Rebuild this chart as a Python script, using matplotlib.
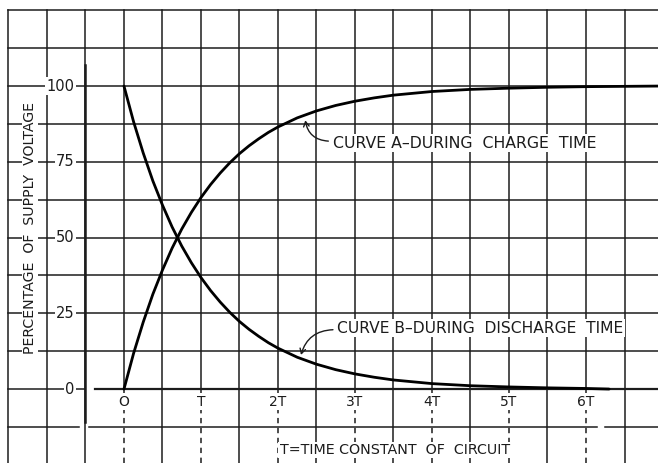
import numpy as np
import matplotlib.pyplot as plt

# time axis in units of the time constant T
t_charge = [0, 0.125, 0.25, 0.375, 0.5, 0.625, 0.75, 0.875, 1, 1.125, 1.25,
            1.375, 1.5, 1.625, 1.75, 1.875, 2, 2.25, 2.5, 2.75, 3, 3.25,
            3.5, 3.75, 4, 4.5, 5, 5.5, 6, 6.95]
v_charge = [0, 11.8, 22.1, 31.3, 39.3, 46.5, 52.8, 58.3, 63.2, 67.5, 71.3,
            74.7, 77.7, 80.3, 82.6, 84.7, 86.5, 89.5, 91.8, 93.6, 95.0, 96.1,
            97.0, 97.6, 98.2, 98.9, 99.3, 99.6, 99.8, 100]

t_discharge = [0, 0.125, 0.25, 0.375, 0.5, 0.625, 0.75, 0.875, 1, 1.125, 1.25,
               1.375, 1.5, 1.625, 1.75, 1.875, 2, 2.25, 2.5, 2.75, 3, 3.25,
               3.5, 3.75, 4, 4.5, 5, 5.5, 6, 6.3]
v_discharge = [100, 88.2, 77.9, 68.7, 60.7, 53.5, 47.2, 41.7, 36.8, 32.5, 28.7,
               25.3, 22.3, 19.7, 17.4, 15.3, 13.5, 10.5, 8.2, 6.4, 5.0, 3.9,
               3.0, 2.4, 1.8, 1.1, 0.7, 0.4, 0.2, 0]

x_ticks = [0, 1, 2, 3, 4, 5, 6]
x_labels = ['O', 'T', '2T', '3T', '4T', '5T', '6T']
y_ticks = [0, 25, 50, 75, 100]
y_labels = ['0', '25', '50', '75', '100']

# sheet limits (graph paper: 0.5T by 12.5 % squares)
XMIN, XMAX = -1.61, 6.935
YMIN, YMAX = -24.4, 128.4
LEFT, TOP = -1.5, 125.0

INK = '#1c1c1c'
fig = plt.figure(figsize=(6.58, 4.63), dpi=100)
ax = fig.add_axes([0, 0, 1, 1])
ax.set_xlim(XMIN, XMAX)
ax.set_ylim(YMIN, YMAX)
ax.axis('off')

glw = 1.1
# vertical rulings
for x in np.arange(LEFT, 6.6, 0.5):
    if float(x).is_integer() and 0 <= x <= 6:
        ax.plot([x, x], [0, TOP], color=INK, lw=glw, zorder=1)
        ax.plot([x, x], [YMIN, 0], color=INK, lw=glw, ls=(0, (3.5, 3)), zorder=1)
    else:
        ax.plot([x, x], [YMIN, TOP], color=INK, lw=glw, zorder=1)

# horizontal rulings
for y in np.arange(-12.5, TOP + 1, 12.5):
    if y == 0:
        ax.plot([LEFT, -0.5], [y, y], color=INK, lw=glw, zorder=1)
        ax.plot([-0.37, XMAX], [y, y], color=INK, lw=1.6, zorder=1)
    elif y == -12.5:
        for a, b in [(LEFT, -0.58), (-0.45, 6.145), (6.25, XMAX)]:
            ax.plot([a, b], [y, y], color=INK, lw=glw, zorder=1)
    else:
        ax.plot([LEFT, XMAX], [y, y], color=INK, lw=glw, zorder=1)

# heavier voltage axis
ax.plot([-0.5, -0.5], [-10.8, 107], color=INK, lw=1.8, zorder=2)

# curves
ax.plot(t_charge, v_charge, color='black', lw=2.0, zorder=3,
        solid_capstyle='round', solid_joinstyle='round')
ax.plot(t_discharge, v_discharge, color='black', lw=2.0, zorder=3,
        solid_capstyle='round', solid_joinstyle='round')

box = dict(facecolor='white', edgecolor='none', pad=1.0)

for v, lab in zip(y_ticks, y_labels):
    ax.text(-0.64, v, lab, ha='right', va='center', fontsize=10.5,
            color=INK, bbox=box, zorder=4)

for t, lab in zip(x_ticks, x_labels):
    ax.text(t, -4.2, lab, ha='center', va='center', fontsize=10,
            color=INK, bbox=box, zorder=4)

ax.text(-1.22, 53, 'PERCENTAGE  OF  SUPPLY  VOLTAGE', rotation=90,
        ha='center', va='center', fontsize=10.2, color=INK, bbox=box, zorder=4)

ax.text(2.02, -20.1, 'T=TIME CONSTANT  OF  CIRCUIT', ha='left', va='center',
        fontsize=10.3, color=INK, bbox=box, zorder=4)

ax.text(2.71, 81.2, 'CURVE A\u2013DURING  CHARGE  TIME', ha='left', va='center',
        fontsize=11.3, color=INK, bbox=box, zorder=4)
ax.text(2.77, 20.1, 'CURVE B\u2013DURING  DISCHARGE  TIME', ha='left', va='center',
        fontsize=11.2, color=INK, bbox=box, zorder=4)

# leader lines to the curves
ax.annotate('', xy=(2.35, 89.6), xytext=(2.69, 81.8),
            arrowprops=dict(arrowstyle='->,head_length=0.35,head_width=0.2',
                            color=INK, lw=1.0,
                            connectionstyle='arc3,rad=-0.45'), zorder=4)
ax.annotate('', xy=(2.29, 10.4), xytext=(2.75, 19.6),
            arrowprops=dict(arrowstyle='->,head_length=0.35,head_width=0.2',
                            color=INK, lw=1.0,
                            connectionstyle='arc3,rad=0.4'), zorder=4)

fig.savefig('out.png', dpi=100, facecolor='white')
